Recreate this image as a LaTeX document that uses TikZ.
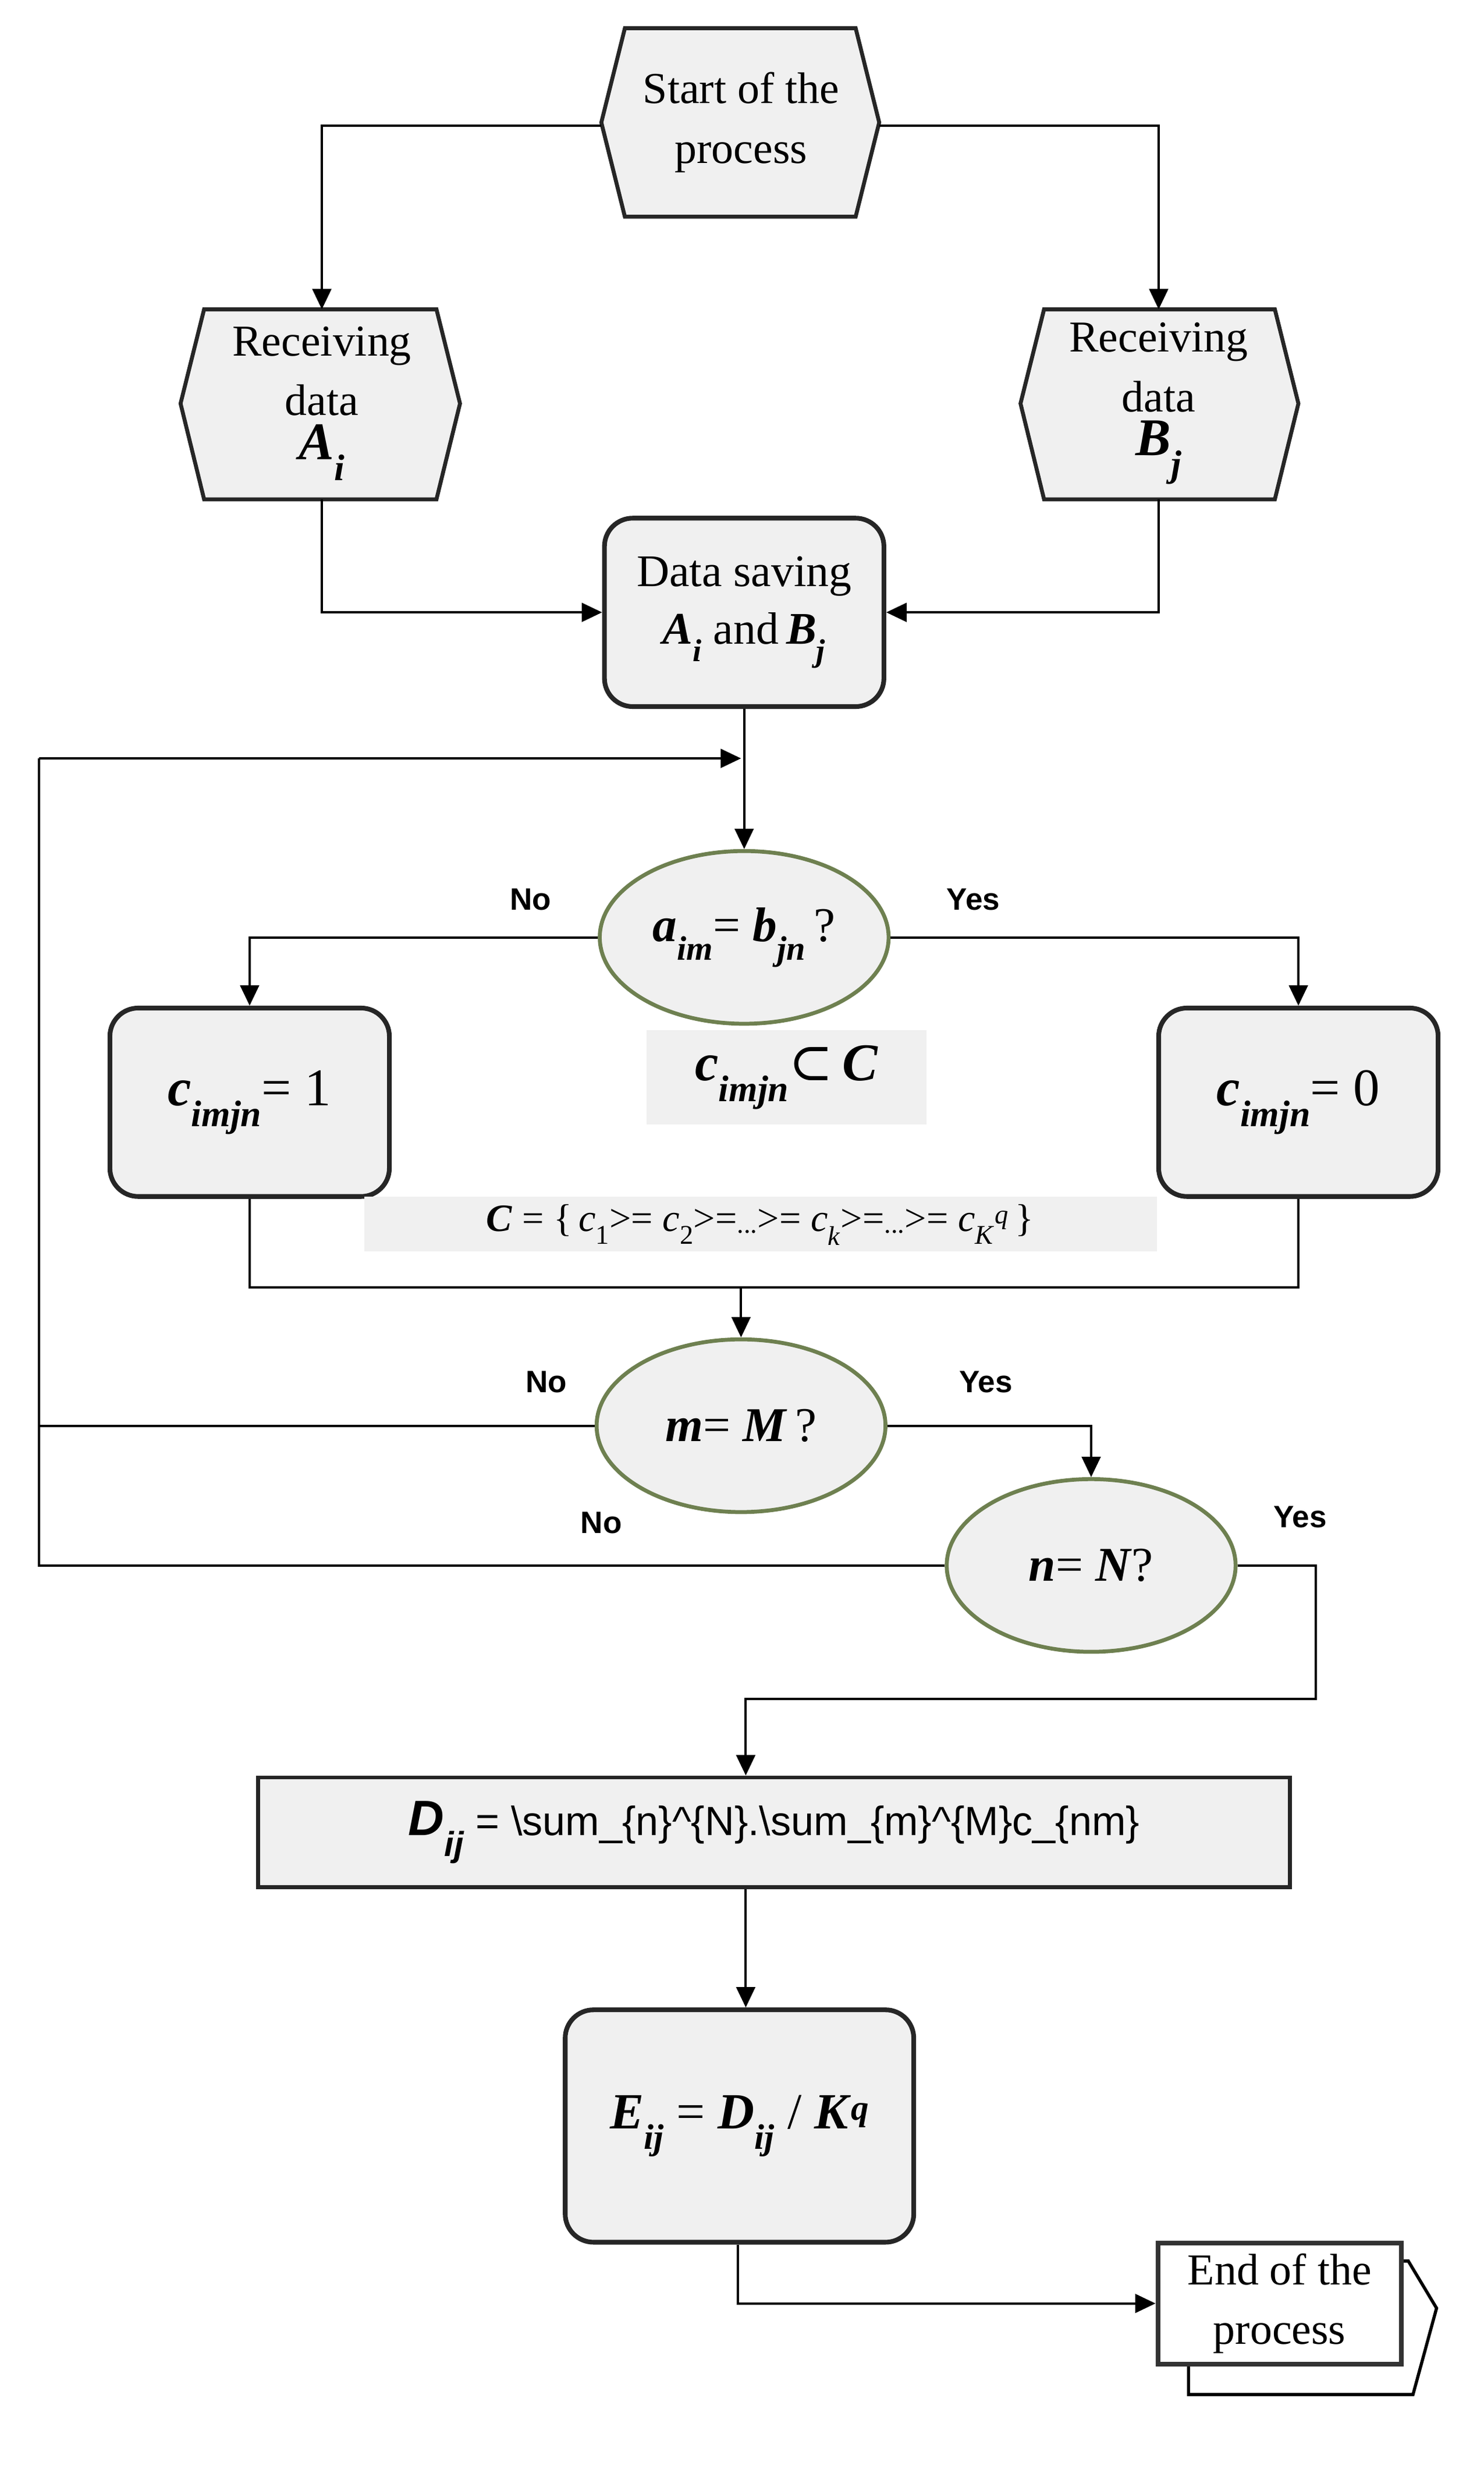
\documentclass[tikz,border=0pt]{standalone}
\usepackage{fontspec}
\setmainfont{Liberation Serif}
\newfontfamily\sansf{Liberation Sans}
\newfontfamily\djv{DejaVu Serif}
\usetikzlibrary{arrows.meta,shapes.geometric}
\definecolor{boxfill}{HTML}{F0F0F0}
\definecolor{ellline}{HTML}{6E8050}
\tikzset{
  ln/.style={line width=1.5mm,draw=black},
  arr/.style={ln,-{Triangle[length=13mm,width=12mm]}},
  rbox/.style={draw=black!85,line width=3mm,fill=boxfill,rounded corners=18mm,minimum width=178mm,minimum height=120mm,align=center,font=\fontsize{82}{104}\selectfont},
  hexb/.style={draw=black!85,line width=2.5mm,fill=boxfill},
  txt/.style={align=center,font=\fontsize{80}{108}\selectfont},
  dec/.style={ellipse,draw=ellline,line width=2.5mm,fill=boxfill,minimum width=184mm,minimum height=110mm,font=\fontsize{88}{100}\selectfont},
  yn/.style={font=\sansf\bfseries\fontsize{56}{60}\selectfont},
  gbox/.style={fill=boxfill,draw=none},
}
\newcommand{\bi}[1]{\textbf{\textit{#1}}}
\newcommand{\sbi}[1]{\textsubscript{\bi{#1}}}
\newcommand{\si}[1]{\textsubscript{#1}}
\begin{document}
\begin{tikzpicture}[x=1mm,y=-1mm]
\useasboundingbox (0,0) rectangle (945,1575);
% hexagons
\filldraw[hexb] (383,78)--(398,18)--(545,18)--(560,78)--(545,138)--(398,138)--cycle;
\node[txt] (start) at (472,78) {Start of the\\process};
\filldraw[hexb] (115,257)--(130,197)--(278,197)--(293,257)--(278,318)--(130,318)--cycle;
\node[txt] (ra) at (205,257) {Receiving\\data\\[-10mm]{\fontsize{96}{100}\selectfont\bi{A}\sbi{i}}};
\filldraw[hexb] (650,257)--(665,197)--(812,197)--(827,257)--(812,318)--(665,318)--cycle;
\node[txt] (rb) at (738,257) {Receiving\\data\\[-10mm]{\fontsize{96}{100}\selectfont\bi{B}\sbi{j}}};
\coordinate (sL) at (383,80); \coordinate (sR) at (560,80);
\coordinate (raT) at (205,197); \coordinate (rbT) at (738,197);
\coordinate (raB) at (205,318); \coordinate (rbB) at (738,318);
% data saving
\node[rbox] (ds) at (474,390) {Data saving\\\bi{A}\sbi{i} and\,\bi{B}\sbi{j}};
% decision 1
\node[dec] (d1) at (474,597) {\bi{a}\sbi{im}= \bi{b}\sbi{jn}\,?};
\node[rbox,font=\fontsize{96}{100}\selectfont] (c1) at (159,702) {\bi{c}\sbi{imjn}= 1};
\node[rbox,font=\fontsize{96}{100}\selectfont] (c0) at (827,702) {\bi{c}\sbi{imjn}= 0};
\fill[gbox] (412,656) rectangle (590,716);
\node[font=\fontsize{96}{100}\selectfont] (sub) at (501,686) {\bi{c}\sbi{imjn}{\djv ⊂}\,\bi{C}};
\fill[gbox] (232,762) rectangle (737,797);
\node[font=\fontsize{70}{74}\selectfont] (set) at (484,780) {\bi{C} = \{\,\textit{c}\si{1}>= \textit{c}\si{2}>=\si{...}>= \textit{c}\si{\textit{k}}>=\si{...}>= \textit{c}\si{\textit{K}}\textsuperscript{\textit{q}}\,\}};
% decisions 2,3
\node[dec] (d2) at (472,908) {\bi{m}= \bi{M}\,?};
\node[dec] (d3) at (695,997) {\bi{n}= \bi{N}?};
% D
\node[draw=black!85,line width=2.5mm,fill=boxfill,minimum width=657mm,minimum height=70mm,font=\sansf\fontsize{74}{80}\selectfont] (D) at (493,1167) {{\fontsize{90}{90}\selectfont\bi{D}\sbi{ij}} = \textbackslash sum\_\{n\}\^{}\{N\}.\textbackslash sum\_\{m\}\^{}\{M\}c\_\{nm\}};
% E
\node[rbox,minimum width=222mm,minimum height=148mm,font=\fontsize{92}{100}\selectfont] (E) at (471,1354) {\bi{E}\sbi{ij} = \bi{D}\sbi{ij} / \bi{K}\textsuperscript{\bi{q}}};
% End
\draw[draw=black,line width=2mm,fill=white] (757,1495)--(757,1525)--(900,1525)--(915,1470)--(897,1440)--(893,1440)--(893,1495)--cycle;
\node[draw=black!80,line width=3mm,fill=white,minimum width=155mm,minimum height=77mm,txt] (end) at (815,1467) {End of the\\process};
% connectors
\draw[arr] (sL) -| (raT);
\draw[arr] (sR) -| (rbT);
\draw[arr] (raB) |- (ds.west);
\draw[arr] (rbB) |- (ds.east);
\draw[arr] (ds.south) -- (d1.north);
\coordinate (loopT) at (25,483);
\draw[arr] (loopT) -- (472,483);
\draw[arr] (d1.west) -| (c1.north);
\draw[arr] (d1.east) -| (c0.north);
\coordinate (mrg) at (472,820);
\draw[ln] (c1.south) |- (mrg) -| (c0.south);
\draw[arr] (mrg) -- (d2.north);
\draw[ln] (d2.west) -| (loopT);
\draw[ln] (d3.west) -| (loopT);
\draw[arr] (d2.east) -| (d3.north);
\coordinate (r3) at (838,1082);
\draw[arr] (d3.east) -| (r3) -| (D.north -| 475,0);
\draw[arr] (D.south -| 475,0) -- (E.north -| 475,0);
\draw[arr] (E.south -| 470,0) |- (end.west);
% labels
\node[yn] at (338,573) {No};
\node[yn] at (620,573) {Yes};
\node[yn] at (348,880) {No};
\node[yn] at (628,880) {Yes};
\node[yn] at (383,970) {No};
\node[yn] at (828,966) {Yes};
\end{tikzpicture}
\end{document}
